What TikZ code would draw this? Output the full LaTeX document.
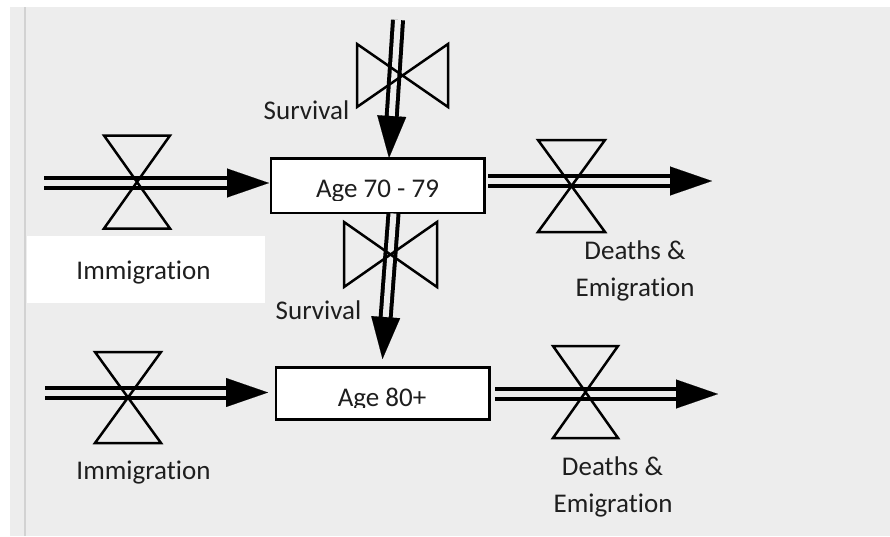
\documentclass[tikz,border=0pt]{standalone}
\usepackage{fontspec}
\setmainfont{Carlito}[Ligatures={NoCommon}]
\usetikzlibrary{arrows.meta,calc}
\definecolor{bg}{RGB}{237,237,237}
\definecolor{sep}{RGB}{210,210,210}
\definecolor{txt}{RGB}{30,30,30}
\begin{document}
\begin{tikzpicture}[x=1pt,y=-1pt,
  flow/.style={line width=4pt,double=bg,double distance=6pt,shorten >=30pt},
  head/.style={line width=0.1pt,-{Triangle[length=42pt,width=29pt]}},
  valve/.style={line width=2.5pt,line join=miter},
  stock/.style={draw,line width=2.5pt,fill=white,inner sep=0pt,minimum width=213.5pt},
  lbl/.style={font=\fontsize{27}{33}\selectfont,text=txt,anchor=base,inner sep=0pt},
]
\useasboundingbox (0,0) rectangle (890,536);
% background
\fill[white] (0,0) rectangle (890,536);
\fill[bg] (10,7) rectangle (890,536);
\draw[sep,line width=1.5pt] (25,7) -- (25,536);
\fill[white] (27,236) rectangle (265,303);

% stocks
\node[stock,minimum height=54.5pt] (b1) at (377.75,185.75) {};
\node[stock,minimum height=52pt] (b2) at (382.75,393.5) {};
\begin{scope}
  \clip (272,160) rectangle (484,200.5);
  \node[lbl] (t1) at (377.5,197.5) {Age 70 - 79};
\end{scope}
\begin{scope}
  \clip (277,369) rectangle (488,407.5);
  \node[lbl] (t2) at (382,406.5) {Age 80+};
\end{scope}

% flow end points
\coordinate (f1s) at (44,183);    \coordinate (f1e) at (269,183);
\coordinate (f2s) at (488,181);   \coordinate (f2e) at (712,181);
\coordinate (f3s) at (45,392.5);  \coordinate (f3e) at (268,392.5);
\coordinate (f4s) at (495,394);   \coordinate (f4e) at (718,394);
\coordinate (f5s) at (398,20);    \coordinate (f5e) at (389,158);
\coordinate (f6s) at (393.5,213.5); \coordinate (f6e) at (382.5,359);

% flows
\foreach \f in {f1,f2,f3,f4,f5,f6}{
  \draw[flow] (\f s) -- (\f e);
  \draw[head] ($(\f e)!42pt!(\f s)$) -- (\f e);
}

% valves
\coordinate (v1) at (137,182);
\coordinate (v2) at (571.5,186);
\coordinate (v3) at (128,397.5);
\coordinate (v4) at (585.5,392);
\coordinate (v5) at (402.5,75.5);
\coordinate (v6) at (390.5,254.5);
\draw[valve] (v1) ++(-33,-46.5) -- ++(66,0) -- ++(-66,93) -- ++(66,0) -- cycle;
\draw[valve] (v2) ++(-33.5,-46) -- ++(67,0) -- ++(-67,92) -- ++(67,0) -- cycle;
\draw[valve] (v3) ++(-33,-45.5) -- ++(66,0) -- ++(-66,91) -- ++(66,0) -- cycle;
\draw[valve] (v4) ++(-32.5,-46) -- ++(65,0) -- ++(-65,92) -- ++(65,0) -- cycle;
\draw[valve] (v5) ++(-45.5,-31.5) -- ++(0,63) -- ++(91,-63) -- ++(0,63) -- cycle;
\draw[valve] (v6) ++(-46.5,-32.5) -- ++(0,65) -- ++(93,-65) -- ++(0,65) -- cycle;

% labels
\node[lbl] (l1) at (306.5,119) {Survival};
\node[lbl] (l2) at (143.5,279) {Immigration};
\node[lbl] (l3) at (318.5,319) {Survival};
\node[lbl] (l4) at (635,259) {Deaths \&};
\node[lbl] (l5) at (635,296) {Emigration};
\node[lbl] (l6) at (143.5,479) {Immigration};
\node[lbl] (l7) at (612.5,475) {Deaths \&};
\node[lbl] (l8) at (613,512) {Emigration};
\end{tikzpicture}
\end{document}
